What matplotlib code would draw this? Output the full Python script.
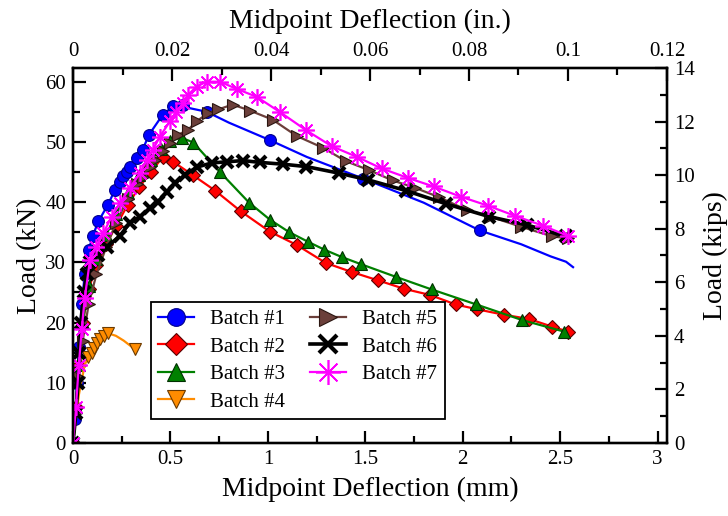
import matplotlib
matplotlib.use("Agg")
import matplotlib.pyplot as plt
from matplotlib.ticker import MultipleLocator

plt.rcParams['font.family'] = ['Liberation Serif', 'DejaVu Serif']

# ---- data (x in mm, y in kN) ----
b1_x = [0, 0.01, 0.02, 0.03, 0.045, 0.06, 0.08, 0.1, 0.13, 0.178, 0.215, 0.24, 0.258, 0.275, 0.29,
        0.327, 0.357, 0.39, 0.46, 0.514, 0.566, 0.6, 0.686, 0.8, 1.01, 1.2, 1.49, 1.8, 2.087, 2.3,
        2.45, 2.53, 2.566]
b1_y = [0, 4, 10, 16, 23, 28, 32, 34.3, 36.8, 39.5, 42, 43.4, 44.3, 45, 45.9,
        47.3, 48.7, 51.2, 54.5, 55.9, 56.1, 55.6, 55.0, 53.2, 50.3, 47.5, 43.9, 39.9, 35.3, 33.0,
        31.0, 30.1, 29.2]
b1_marks = [0, 1, 2, 3, 4, 5, 6, 7, 8, 9, 10, 11, 12, 13, 14, 15, 16, 17, 18, 19, 20, 22, 24, 26, 28]

b2_x = [0, 0.015, 0.03, 0.05, 0.08, 0.12, 0.17, 0.22, 0.28, 0.34, 0.4, 0.46, 0.514, 0.614, 0.73,
        0.86, 1.01, 1.147, 1.297, 1.43, 1.566, 1.70, 1.83, 1.964, 2.075, 2.21, 2.34, 2.46, 2.54]
b2_y = [0, 6, 13, 20, 25.5, 29.5, 33, 36, 39.5, 42.5, 45, 47.5, 46.7, 44.5, 41.9,
        38.5, 35.1, 32.9, 29.9, 28.4, 27.0, 25.6, 24.6, 23.0, 22.2, 21.3, 20.6, 19.3, 18.5]

b3_x = [0, 0.015, 0.03, 0.05, 0.08, 0.12, 0.17, 0.22, 0.28, 0.34, 0.4, 0.45, 0.5, 0.557, 0.617,
        0.754, 0.904, 1.01, 1.11, 1.207, 1.29, 1.378, 1.477, 1.656, 1.84, 2.07, 2.306, 2.52]
b3_y = [0, 6, 13, 20, 26, 30.5, 34.5, 38, 41.5, 44.5, 47, 48.8, 50.2, 50.7, 49.9,
        45.0, 39.9, 37.1, 35.0, 33.4, 32.1, 30.9, 29.7, 27.6, 25.5, 23.0, 20.4, 18.5]

b4_x = [0, 0.03, 0.06, 0.079, 0.095, 0.11, 0.125, 0.14, 0.16, 0.181, 0.22, 0.26, 0.3, 0.318]
b4_y = [0, 8, 13, 14.2, 15, 15.8, 16.6, 17.2, 17.8, 18.2, 17.8, 17.0, 16.0, 15.6]
b4_marks = [3, 4, 5, 6, 7, 8, 9, 13]

b5_x = [0, 0.015, 0.03, 0.05, 0.08, 0.12, 0.17, 0.22, 0.28, 0.33, 0.36, 0.395, 0.42, 0.46, 0.497,
        0.54, 0.59, 0.637, 0.694, 0.745, 0.819, 0.908, 1.024, 1.147, 1.284, 1.40, 1.52, 1.64,
        1.754, 1.88, 2.02, 2.14, 2.30, 2.46, 2.54]
b5_y = [0, 5, 11, 17, 23, 28, 32.5, 36.5, 40.5, 43, 44.2, 45.9, 47.0, 48.5, 49.8,
        51.2, 52.0, 53.5, 54.8, 55.4, 56.2, 55.2, 53.7, 51.0, 49.0, 46.8, 45.3, 43.6,
        42.4, 40.8, 38.7, 37.6, 35.9, 34.3, 34.0]

b6_x = [0, 0.015, 0.026, 0.033, 0.04, 0.055, 0.07, 0.087, 0.13, 0.173, 0.24, 0.29, 0.344, 0.395,
        0.437, 0.48, 0.523, 0.574, 0.634, 0.711, 0.788, 0.873, 0.959, 1.078, 1.198, 1.366, 1.514,
        1.71, 1.916, 2.135, 2.33, 2.53]
b6_y = [0, 5, 10, 15, 20, 25, 28, 30, 31.3, 32.5, 34.4, 36.5, 37.6, 39.0,
        40.1, 41.7, 43.1, 44.5, 45.8, 46.5, 46.7, 46.9, 46.6, 46.3, 45.9, 44.8, 43.7,
        41.9, 39.7, 37.6, 36.2, 34.3]

b7_x = [0, 0.015, 0.03, 0.045, 0.06, 0.087, 0.12, 0.155, 0.198, 0.24, 0.29, 0.344, 0.378, 0.41,
        0.446, 0.497, 0.53, 0.566, 0.59, 0.634, 0.686, 0.754, 0.84, 0.942, 1.06, 1.198, 1.327,
        1.458, 1.583, 1.72, 1.85, 1.99, 2.13, 2.27, 2.41, 2.54]
b7_y = [0, 6, 13, 19, 24, 30.4, 32.6, 34.8, 37.6, 39.8, 42.3, 44.8, 47.0, 48.7,
        50.9, 53.4, 55.0, 56.4, 57.8, 59.2, 60.0, 60.0, 58.8, 57.5, 55.0, 51.9, 49.3,
        47.5, 45.6, 44.0, 42.6, 40.9, 39.4, 37.7, 36.1, 34.4]

labels = ['Batch #1', 'Batch #2', 'Batch #3', 'Batch #4', 'Batch #5', 'Batch #6', 'Batch #7']

KN_PER_KIP = 4.44822
MM_PER_IN = 25.4

fig = plt.figure(figsize=(7.28, 5.16), dpi=100)
ax = fig.add_axes([0.1003, 0.1415, 0.8159, 0.7267])

ax.plot(b1_x, b1_y, color='blue', lw=1.6, marker='o', ms=8.5, mfc='blue', mec='#00008b', mew=0.8,
        markevery=b1_marks, label=labels[0])
ax.plot(b2_x, b2_y, color='red', lw=1.6, marker='D', ms=7.5, mfc='red', mec='#5a0000', mew=0.8,
        label=labels[1])
ax.plot(b3_x, b3_y, color='green', lw=1.6, marker='^', ms=9, mfc='green', mec='#003000', mew=0.8,
        label=labels[2])
ax.plot(b4_x, b4_y, color='#ff8c00', lw=1.6, marker='v', ms=9, mfc='#ff8c00', mec='#6b3a00', mew=0.8,
        markevery=b4_marks, label=labels[3])
ax.plot(b5_x, b5_y, color='#6b3f3a', lw=1.6, marker='>', ms=9, mfc='#6b3f3a', mec='#2a1510', mew=0.8,
        label=labels[4])
ax.plot(b6_x, b6_y, color='black', lw=2.6, marker='x', ms=9, mfc='black', mec='black', mew=3,
        label=labels[5])
ax.plot(b7_x, b7_y, color='magenta', lw=1.6, marker=(8, 2, 0), ms=12, mfc='magenta', mec='magenta',
        mew=1.2, label=labels[6])

xmax_mm = 0.12 * MM_PER_IN
ymax_kn = 14 * KN_PER_KIP
ax.set_xlim(0, xmax_mm)
ax.set_ylim(0, ymax_kn)
ax.xaxis.set_major_locator(MultipleLocator(0.5))
ax.xaxis.set_minor_locator(MultipleLocator(0.25))
ax.yaxis.set_major_locator(MultipleLocator(10))
ax.yaxis.set_minor_locator(MultipleLocator(5))
ax.set_xlabel('Midpoint Deflection (mm)', fontsize=20, labelpad=6)
ax.set_ylabel('Load (kN)', fontsize=20, labelpad=2)
ax.xaxis.set_major_formatter(plt.FuncFormatter(lambda v, p: ('%g' % v)))
ax.yaxis.set_major_formatter(plt.FuncFormatter(lambda v, p: ('%g' % v)))

axt = ax.twiny()
axt.set_xlim(0, 0.12)
axt.xaxis.set_major_locator(MultipleLocator(0.02))
axt.xaxis.set_minor_locator(MultipleLocator(0.01))
axt.xaxis.set_major_formatter(plt.FuncFormatter(lambda v, p: ('%g' % round(v, 3))))
axt.set_xlabel('Midpoint Deflection (in.)', fontsize=20, labelpad=10)

axr = ax.twinx()
axr.set_ylim(0, 14)
axr.yaxis.set_major_locator(MultipleLocator(2))
axr.yaxis.set_minor_locator(MultipleLocator(1))
axr.set_ylabel('Load (kips)', fontsize=20, labelpad=6)

for a in (ax, axt, axr):
    for s in a.spines.values():
        s.set_linewidth(1.6)
    a.tick_params(which='major', direction='in', length=9, width=1.6, labelsize=15, pad=5)
    a.tick_params(which='minor', direction='in', length=5, width=1.6)

leg = ax.legend(ncol=2, loc='lower left', bbox_to_anchor=(0.131, 0.064), borderaxespad=0,
                fontsize=15, fancybox=False, edgecolor='black', framealpha=1,
                markerscale=1.5, handlelength=1.7, handletextpad=0.8, columnspacing=1.2,
                labelspacing=0.38, borderpad=0.35)
leg.get_frame().set_linewidth(1.3)

fig.savefig('out.png', dpi=100)
